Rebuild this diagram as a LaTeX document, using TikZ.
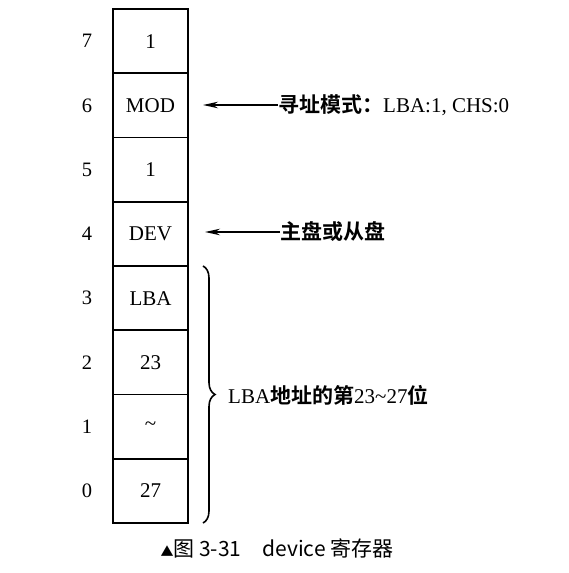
\documentclass[tikz,border=0pt]{standalone}
\usepackage{fontspec}
\setmainfont{Liberation Serif}
\newfontfamily\cjk{Noto Sans CJK SC}[BoldFont={* Bold}]
\newcommand\cjb{\cjk\bfseries}
\usetikzlibrary{arrows.meta,decorations.pathreplacing}
\begin{document}
\begin{tikzpicture}[x=1pt,y=-1pt,
  cell/.style={draw,line width=1.8pt,minimum width=75pt,minimum height=64.25pt,outer sep=0pt,inner sep=0pt,font=\fontsize{21}{23}\selectfont},
  bitno/.style={font=\fontsize{20.5}{22}\selectfont,inner sep=0pt},
  note/.style={anchor=west,inner sep=0pt,font=\fontsize{21}{23}\selectfont},
  pointer/.style={line width=1.8pt,-{Stealth[length=15pt,width=6.5pt]}}]
\useasboundingbox (0,0) rectangle (569,573);
\node[cell] (c7) at (150.5,41.1) {1};
\node[cell] (c6) at (150.5,105.4) {MOD};
\node[cell] (c5) at (150.5,169.6) {1};
\node[cell] (c4) at (150.5,233.9) {DEV};
\node[cell] (c3) at (150.5,298.1) {LBA};
\node[cell] (c2) at (150.5,362.4) {23};
\node[cell] (c1) at (150.5,426.6) {\textasciitilde};
\node[cell] (c0) at (150.5,490.9) {27};
\foreach \i in {0,...,7}{
  \node[bitno] (b\i) at (87,0 |- c\i) {\i};
}
\node[note] (l6) at (278,105) {{\cjb 寻址模式：}LBA:1, CHS:0};
\node[note] (l4) at (280,232) {\cjb 主盘或从盘};
\draw[pointer] (l6.west) -- ([xshift=15pt]c6.east |- l6.west);
\draw[pointer] (l4.west) -- ([xshift=17pt]c4.east |- l4.west);
\coordinate (bt) at ([xshift=15pt]c3.north east);
\coordinate (bb) at ([xshift=15pt]c0.south east);
\draw[line width=1.6pt,decorate,decoration={brace,amplitude=12pt}] (bt) -- (bb);
\node[note] (l0) at (228,395) {LBA{\cjb 地址的第}23\textasciitilde27{\cjb 位}};
\node[inner sep=0pt,font=\cjk\fontsize{21}{23}\selectfont] (cap) at (277,548) {{\fontsize{13}{14}\selectfont ▲}图 3-31\quad device 寄存器};
\end{tikzpicture}
\end{document}
